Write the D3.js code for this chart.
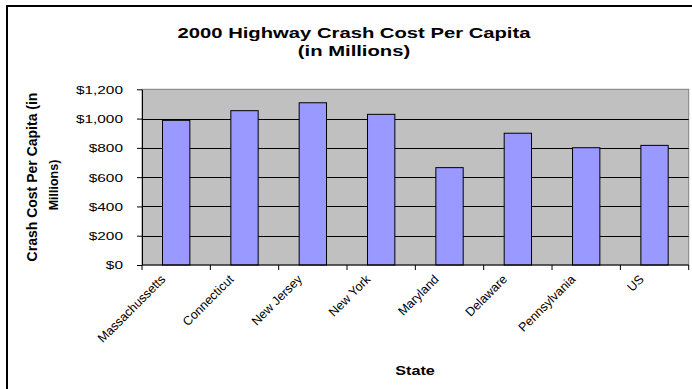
<!DOCTYPE html>
<html>
<head>
<meta charset="utf-8">
<script src="https://cdnjs.cloudflare.com/ajax/libs/d3/7.8.5/d3.min.js"></script>
<style>
  html, body { margin: 0; padding: 0; background: #ffffff; }
  svg { display: block; font-family: Arial, "Liberation Sans", Helvetica, sans-serif; }
</style>
</head>
<body>
<svg id="chart" width="692" height="389"></svg>
<script>
const categories = ["Massachussetts", "Connecticut", "New Jersey", "New York", "Maryland", "Delaware", "Pennsylvania", "US"];
const values = [988, 1054, 1108, 1029, 665, 900, 801, 817];
const yTicks = [0, 200, 400, 600, 800, 1000, 1200];
const titleLines = ["2000 Highway Crash Cost Per Capita", "(in Millions)"];
const yTitleLines = ["Crash Cost Per Capita (in", "Millions)"];
const xTitle = "State";

const svg = d3.select("#chart");
const W = 692, H = 389;
svg.append("rect").attr("width", W).attr("height", H).attr("fill", "#ffffff");

// outer chart border (extends past right/bottom edge like the reference)
svg.append("rect").attr("x", 7).attr("y", 6).attr("width", 720).attr("height", 420)
  .attr("fill", "none").attr("stroke", "#000").attr("stroke-width", 2);

const plot = { left: 142, right: 688.7, top: 89.3, bottom: 265 };

const x = d3.scaleBand().domain(categories).range([plot.left, plot.right])
  .paddingInner(0.6).paddingOuter(0.3);
const xCat = d3.scaleBand().domain(categories).range([plot.left, plot.right]).padding(0);
const y = d3.scaleLinear().domain([0, 1200]).range([plot.bottom, plot.top]);

// plot area
svg.append("rect")
  .attr("x", plot.left).attr("y", y(1200))
  .attr("width", plot.right - plot.left).attr("height", y(0) - y(1200))
  .attr("fill", "#C0C0C0").attr("stroke", "#808080").attr("stroke-width", 1);

// gridlines
svg.append("g").selectAll("line")
  .data(yTicks.filter(d => d > 0 && d < 1200))
  .join("line")
  .attr("x1", plot.left).attr("x2", plot.right)
  .attr("y1", d => Math.round(y(d)) + 0.5).attr("y2", d => Math.round(y(d)) + 0.5)
  .attr("stroke", "#000").attr("stroke-width", 1);

// bars
svg.append("g").selectAll("rect")
  .data(categories)
  .join("rect")
  .attr("x", d => x(d))
  .attr("y", (d, i) => y(values[i]))
  .attr("width", x.bandwidth())
  .attr("height", (d, i) => y(0) - y(values[i]))
  .attr("fill", "#9999FF").attr("stroke", "#000").attr("stroke-width", 1);

// y axis
const yAxis = svg.append("g")
  .attr("transform", `translate(${plot.left},0)`)
  .call(d3.axisLeft(y).tickValues(yTicks).tickFormat(d3.format("$,")).tickSize(5).tickSizeOuter(0));
yAxis.select(".domain").attr("stroke", "#000");
yAxis.selectAll(".tick line").attr("stroke", "#000");
yAxis.selectAll(".tick text")
  .attr("x", 0).attr("dy", "0.35em")
  .attr("transform", "translate(-19,0) scale(1.4,1)")
  .attr("text-anchor", "end")
  .attr("font-size", 11).attr("fill", "#000");

// x axis
const xAxis = svg.append("g")
  .attr("transform", `translate(0,${plot.bottom})`)
  .call(d3.axisBottom(x).tickSize(0).tickSizeOuter(0));
xAxis.select(".domain").remove();
xAxis.append("line")
  .attr("x1", plot.left).attr("x2", plot.right).attr("y1", 0).attr("y2", 0)
  .attr("stroke", "#000");
xAxis.selectAll(".cat-tick")
  .data(categories.map(c => xCat(c)).concat([plot.right]))
  .join("line").attr("class", "cat-tick")
  .attr("x1", d => d).attr("x2", d => d).attr("y1", 0).attr("y2", 5)
  .attr("stroke", "#000");
xAxis.selectAll(".tick text")
  .attr("x", 0).attr("y", 0).attr("dy", 0)
  .attr("transform", "translate(-10,15) rotate(-45)")
  .attr("text-anchor", "end")
  .attr("font-size", 12.5).attr("fill", "#000");

// title
const title = svg.append("g");
titleLines.forEach((t, i) => {
  title.append("g")
    .attr("transform", `translate(354,${38 + i * 18}) scale(1.35,1)`)
    .append("text")
    .attr("text-anchor", "middle")
    .attr("font-weight", "bold").attr("font-size", 15).attr("fill", "#000")
    .text(t);
});

// y axis title
svg.append("text")
  .attr("transform", `translate(37,177) rotate(-90)`)
  .attr("text-anchor", "middle")
  .attr("font-weight", "bold").attr("font-size", 14).attr("fill", "#000")
  .text(yTitleLines[0]);
svg.append("text")
  .attr("transform", `translate(58,185) rotate(-90)`)
  .attr("text-anchor", "middle")
  .attr("font-weight", "bold").attr("font-size", 12.5).attr("fill", "#000")
  .text(yTitleLines[1]);

// x axis title
svg.append("g")
  .attr("transform", `translate(415,375) scale(1.35,1)`)
  .append("text")
  .attr("text-anchor", "middle")
  .attr("font-weight", "bold").attr("font-size", 12).attr("fill", "#000")
  .text(xTitle);
</script>
</body>
</html>
